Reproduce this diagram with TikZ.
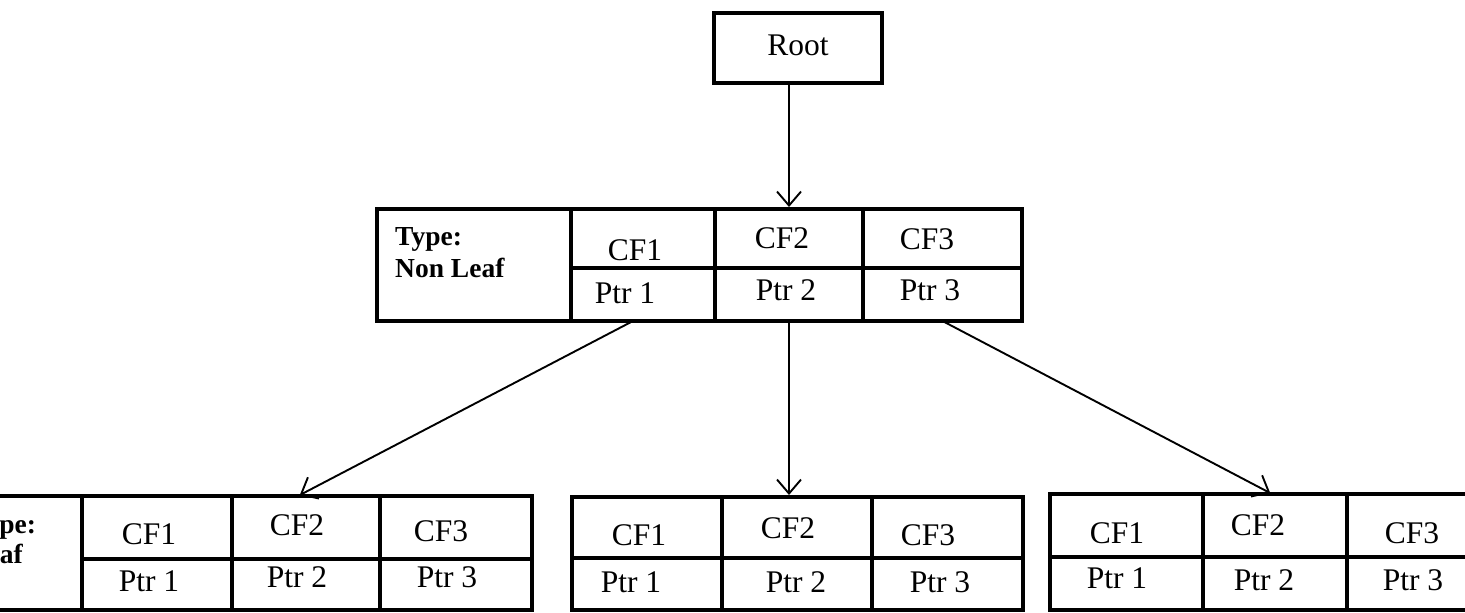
\documentclass[tikz,border=0pt]{standalone}
\usepackage{fontspec}
\setmainfont{Liberation Serif}
\usetikzlibrary{fit,arrows.meta}
\tikzset{
  cell/.style={draw, line width=3.2pt, inner sep=0pt, outer sep=0pt},
  frame/.style={draw, line width=4.5pt, inner sep=0pt, outer sep=0pt},
  lbl/.style={font=\fontsize{31.5}{36}\selectfont, anchor=base, inner sep=0pt},
  tlbl/.style={font=\bfseries\fontsize{27.5}{32}\selectfont, anchor=base west, inner sep=0pt},
  conn/.style={line width=1.9pt, -{Straight Barb[length=14pt,width=24pt,line width=1.9pt]}, shorten >=2pt}
}
\begin{document}
\begin{tikzpicture}[x=1pt,y=-1pt]
\useasboundingbox (0,0) rectangle (1465,613);
\clip (0,0) rectangle (1465,613);

% Root
\node[frame, line width=4pt, fit={(714,13)(882,83)}] (root) {};
\node[lbl] (rootT) at (798,55) {Root};

% Middle (non leaf) box
\node[cell, fit={(377,209)(571,321)}] (M-type) {};
\node[cell, fit={(571,209)(715,268)}] (M-cf1) {};
\node[cell, fit={(571,268)(715,321)}] (M-p1) {};
\node[cell, fit={(715,209)(863,268)}] (M-cf2) {};
\node[cell, fit={(715,268)(863,321)}] (M-p2) {};
\node[cell, fit={(863,209)(1022,268)}] (M-cf3) {};
\node[cell, fit={(863,268)(1022,321)}] (M-p3) {};
\node[frame, fit={(377,209)(1022,321)}] (M) {};
\node[tlbl] (M-t1) at (395,245) {Type:};
\node[tlbl] (M-t2) at (395,277) {Non Leaf};
\node[lbl] (M-cf1T) at (635,260) {CF1};
\node[lbl] (M-cf2T) at (782,248) {CF2};
\node[lbl] (M-cf3T) at (927,249) {CF3};
\node[lbl] (M-p1T) at (625,303) {Ptr 1};
\node[lbl] (M-p2T) at (786,300) {Ptr 2};
\node[lbl] (M-p3T) at (930,300) {Ptr 3};

% Left leaf box
\node[cell, fit={(-112,496)(82,610)}] (L-type) {};
\node[cell, fit={(82,496)(232,559)}] (L-cf1) {};
\node[cell, fit={(82,559)(232,610)}] (L-p1) {};
\node[cell, fit={(232,496)(380,559)}] (L-cf2) {};
\node[cell, fit={(232,559)(380,610)}] (L-p2) {};
\node[cell, fit={(380,496)(532,559)}] (L-cf3) {};
\node[cell, fit={(380,559)(532,610)}] (L-p3) {};
\node[frame, fit={(-112,496)(532,610)}] (L) {};
\node[tlbl] (L-t1) at (-31,533) {Type:};
\node[tlbl] (L-t2) at (-31,563) {Leaf};
\node[lbl] (L-cf1T) at (149,544) {CF1};
\node[lbl] (L-cf2T) at (297,535) {CF2};
\node[lbl] (L-cf3T) at (441,541) {CF3};
\node[lbl] (L-p1T) at (149,591) {Ptr 1};
\node[lbl] (L-p2T) at (297,587) {Ptr 2};
\node[lbl] (L-p3T) at (447,587) {Ptr 3};

% Centre leaf box
\node[cell, fit={(572,497)(722,558)}] (C-cf1) {};
\node[cell, fit={(572,558)(722,610)}] (C-p1) {};
\node[cell, fit={(722,497)(872,558)}] (C-cf2) {};
\node[cell, fit={(722,558)(872,610)}] (C-p2) {};
\node[cell, fit={(872,497)(1023,558)}] (C-cf3) {};
\node[cell, fit={(872,558)(1023,610)}] (C-p3) {};
\node[frame, fit={(572,497)(1023,610)}] (C) {};
\node[lbl] (C-cf1T) at (639,545) {CF1};
\node[lbl] (C-cf2T) at (788,538) {CF2};
\node[lbl] (C-cf3T) at (928,545) {CF3};
\node[lbl] (C-p1T) at (631,592) {Ptr 1};
\node[lbl] (C-p2T) at (796,592) {Ptr 2};
\node[lbl] (C-p3T) at (940,592) {Ptr 3};

% Right leaf box
\node[cell, fit={(1050,494)(1203,557)}] (R-cf1) {};
\node[cell, fit={(1050,557)(1203,610)}] (R-p1) {};
\node[cell, fit={(1203,494)(1347,557)}] (R-cf2) {};
\node[cell, fit={(1203,557)(1347,610)}] (R-p2) {};
\node[cell, fit={(1347,494)(1500,557)}] (R-cf3) {};
\node[cell, fit={(1347,557)(1500,610)}] (R-p3) {};
\node[frame, fit={(1050,494)(1500,610)}] (R) {};
\node[lbl] (R-cf1T) at (1117,543) {CF1};
\node[lbl] (R-cf2T) at (1258,535) {CF2};
\node[lbl] (R-cf3T) at (1412,543) {CF3};
\node[lbl] (R-p1T) at (1117,588) {Ptr 1};
\node[lbl] (R-p2T) at (1264,590) {Ptr 2};
\node[lbl] (R-p3T) at (1413,590) {Ptr 3};

% Connectors
\draw[conn] ([xshift=-9pt]root.south) -- ([xshift=-9pt]root.south |- M.north);
\draw[conn] ([xshift=-10pt]M-p1.south) -- ([xshift=-8pt]L-cf2.north);
\draw[conn] (M-p2.south) -- (M-p2.south |- C-cf2.north);
\draw[conn] (M-p3.south) -- ([xshift=-3pt]R-cf2.north);
\end{tikzpicture}
\end{document}
